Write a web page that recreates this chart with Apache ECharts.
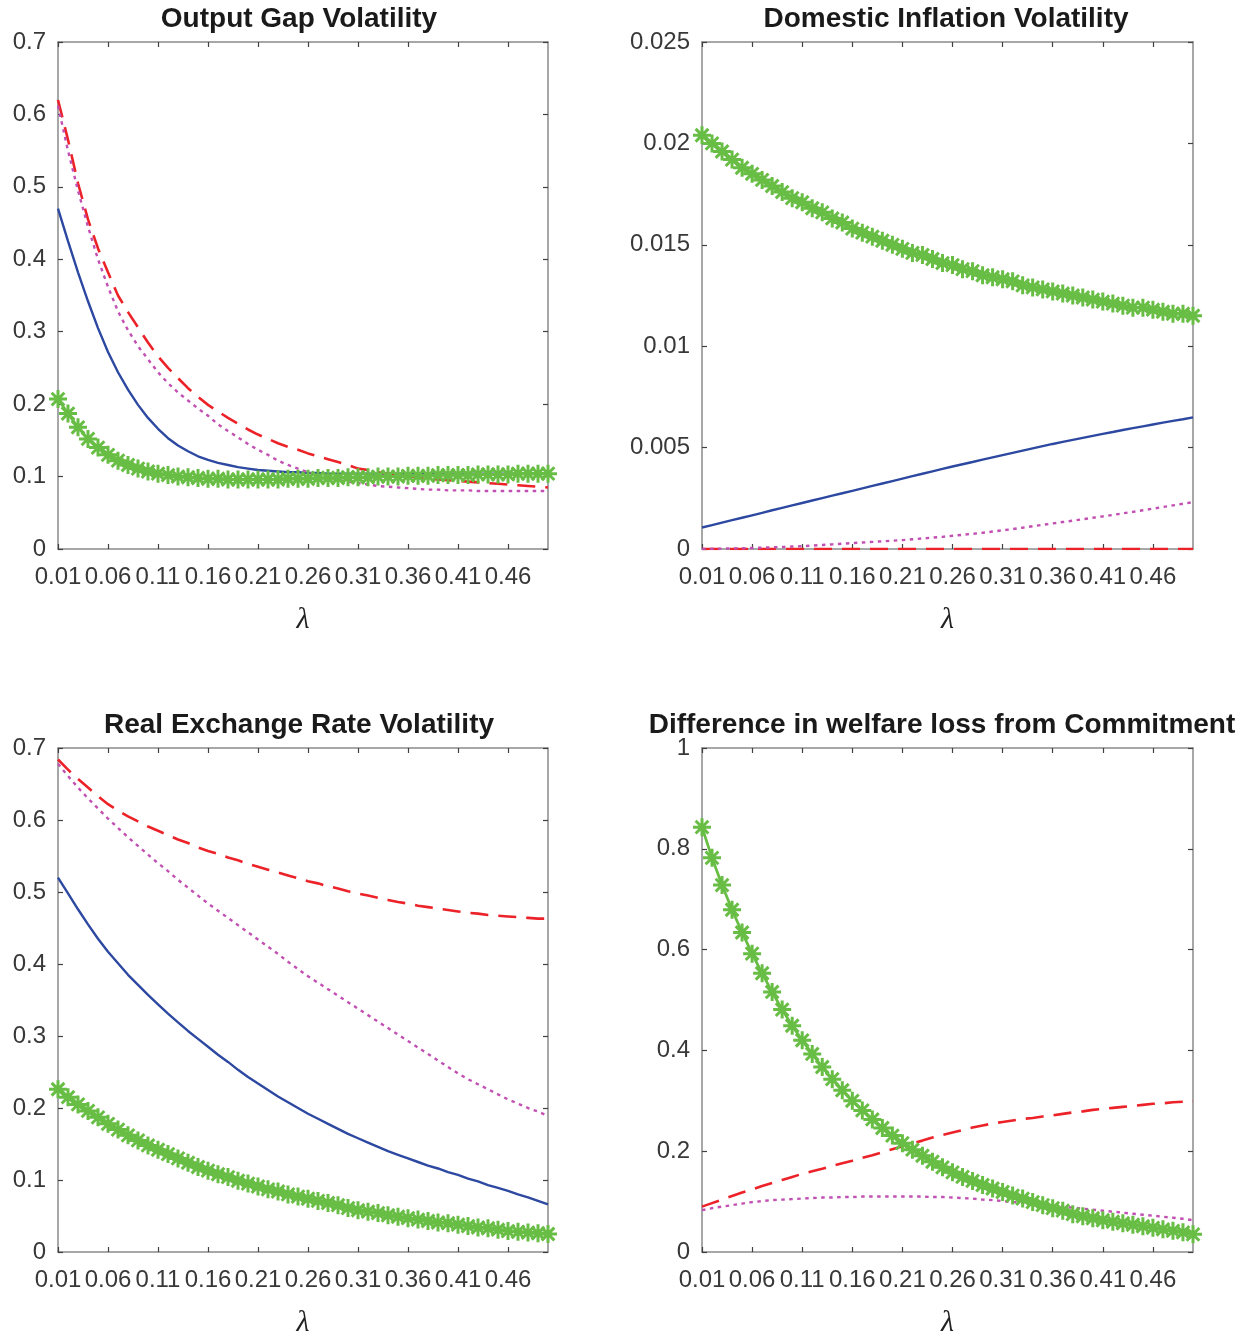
<!DOCTYPE html>
<html>
<head>
<meta charset="utf-8">
<script src="https://cdn.jsdelivr.net/npm/echarts@6/dist/echarts.min.js"></script>
<style>html,body{margin:0;padding:0;background:#fff}#c{width:1249px;height:1339px}</style>
</head>
<body>
<div id="c"></div>
<script>
// lambda grid (x axis categories)
var lambdas = ['0.01','0.02','0.03','0.04','0.05','0.06','0.07','0.08','0.09','0.10',
  '0.11','0.12','0.13','0.14','0.15','0.16','0.17','0.18','0.19','0.20',
  '0.21','0.22','0.23','0.24','0.25','0.26','0.27','0.28','0.29','0.30',
  '0.31','0.32','0.33','0.34','0.35','0.36','0.37','0.38','0.39','0.40',
  '0.41','0.42','0.43','0.44','0.45','0.46','0.47','0.48','0.49','0.50'];

// Panel titles
var titles = ['Output Gap Volatility', 'Domestic Inflation Volatility',
  'Real Exchange Rate Volatility', 'Difference in welfare loss from Commitment'];

// Output gap volatility
var ogBlue = [0.470,0.425,0.382,0.342,0.305,0.272,0.244,0.220,0.199,0.181,
  0.166,0.153,0.143,0.135,0.128,0.123,0.119,0.116,0.113,0.111,
  0.109,0.108,0.107,0.106,0.106,0.105,0.105,0.104,0.104,0.104,
  0.104,0.104,0.104,0.104,0.104,0.104,0.104,0.104,0.104,0.104,
  0.104,0.104,0.104,0.104,0.104,0.104,0.104,0.104,0.104,0.104];
var ogRed = [0.620,0.565,0.505,0.455,0.415,0.382,0.350,0.327,0.306,0.285,
  0.266,0.250,0.236,0.222,0.210,0.199,0.190,0.181,0.173,0.165,
  0.158,0.152,0.146,0.141,0.137,0.132,0.128,0.124,0.120,0.116,
  0.111,0.109,0.106,0.104,0.102,0.100,0.099,0.097,0.096,0.095,
  0.094,0.093,0.092,0.091,0.090,0.089,0.088,0.087,0.086,0.085];
var ogMagenta = [0.612,0.550,0.495,0.445,0.400,0.362,0.328,0.302,0.280,0.262,
  0.244,0.229,0.216,0.205,0.194,0.184,0.172,0.163,0.154,0.145,
  0.137,0.130,0.122,0.116,0.111,0.106,0.101,0.098,0.095,0.093,
  0.091,0.089,0.087,0.086,0.085,0.084,0.083,0.082,0.082,0.081,
  0.081,0.081,0.080,0.080,0.080,0.080,0.080,0.080,0.080,0.080];
var ogGreen = [0.207,0.187,0.168,0.152,0.140,0.130,0.122,0.116,0.111,0.107,
  0.104,0.102,0.100,0.099,0.098,0.097,0.097,0.096,0.096,0.096,
  0.096,0.096,0.096,0.097,0.097,0.097,0.098,0.098,0.098,0.099,
  0.099,0.099,0.100,0.100,0.100,0.101,0.101,0.101,0.102,0.102,
  0.102,0.102,0.103,0.103,0.103,0.103,0.104,0.104,0.104,0.104];

// Domestic inflation volatility
var diBlue = [0.00106,0.00118,0.00130,0.00142,0.00154,0.00166,0.00178,0.00191,0.00203,0.00215,
  0.00227,0.00239,0.00251,0.00263,0.00275,0.00287,0.00299,0.00311,0.00323,0.00335,
  0.00347,0.00359,0.00371,0.00383,0.00395,0.00407,0.00418,0.00429,0.00441,0.00452,
  0.00463,0.00474,0.00485,0.00496,0.00507,0.00518,0.00528,0.00538,0.00548,0.00558,
  0.00568,0.00577,0.00587,0.00596,0.00605,0.00614,0.00623,0.00632,0.00640,0.00649];
var diRed = [0,0,0,0,0,0,0,0,0,0, 0,0,0,0,0,0,0,0,0,0, 0,0,0,0,0,0,0,0,0,0,
  0,0,0,0,0,0,0,0,0,0, 0,0,0,0,0,0,0,0,0,0];
var diMagenta = [0.00000,0.00001,0.00002,0.00003,0.00004,0.00005,0.00007,0.00008,0.00010,0.00012,
  0.00014,0.00017,0.00020,0.00023,0.00026,0.00029,0.00032,0.00035,0.00038,0.00041,
  0.00044,0.00048,0.00052,0.00056,0.00060,0.00065,0.00070,0.00075,0.00080,0.00086,
  0.00092,0.00098,0.00105,0.00112,0.00119,0.00126,0.00133,0.00140,0.00147,0.00154,
  0.00161,0.00168,0.00176,0.00183,0.00191,0.00199,0.00207,0.00215,0.00223,0.00231];
var diGreen = [0.0204,0.0200,0.0196,0.0192,0.0188,0.0185,0.0182,0.0179,0.0176,0.0173,
  0.0171,0.0168,0.0166,0.0163,0.0161,0.0158,0.0156,0.0154,0.0152,0.0150,
  0.0148,0.0146,0.0145,0.0143,0.0141,0.0140,0.0138,0.0137,0.0135,0.0134,
  0.0133,0.0132,0.0130,0.0129,0.0128,0.0127,0.0126,0.0125,0.0124,0.0123,
  0.0122,0.0121,0.0120,0.0119,0.0119,0.0118,0.0117,0.0116,0.0116,0.0115];

// Real exchange rate volatility
var rerBlue = [0.520,0.498,0.476,0.455,0.435,0.417,0.401,0.385,0.371,0.357,
  0.344,0.331,0.319,0.307,0.296,0.285,0.274,0.264,0.253,0.243,
  0.234,0.225,0.216,0.208,0.200,0.192,0.185,0.178,0.171,0.164,
  0.158,0.152,0.146,0.140,0.135,0.130,0.125,0.120,0.116,0.111,
  0.107,0.102,0.098,0.093,0.089,0.085,0.080,0.076,0.071,0.066];
var rerRed = [0.684,0.670,0.657,0.645,0.633,0.622,0.613,0.605,0.598,0.591,
  0.585,0.579,0.573,0.568,0.562,0.557,0.553,0.548,0.544,0.539,
  0.535,0.531,0.527,0.523,0.519,0.515,0.512,0.508,0.505,0.501,
  0.498,0.495,0.492,0.489,0.486,0.484,0.481,0.479,0.477,0.475,
  0.473,0.471,0.470,0.468,0.467,0.466,0.465,0.464,0.463,0.463];
var rerMagenta = [0.678,0.661,0.645,0.630,0.616,0.602,0.589,0.576,0.564,0.552,
  0.540,0.529,0.517,0.506,0.495,0.484,0.474,0.464,0.454,0.444,
  0.434,0.424,0.414,0.403,0.393,0.383,0.374,0.365,0.356,0.347,
  0.338,0.329,0.320,0.311,0.302,0.293,0.284,0.275,0.266,0.257,
  0.248,0.240,0.233,0.226,0.219,0.212,0.206,0.200,0.195,0.189];
var rerGreen = [0.226,0.215,0.205,0.196,0.187,0.178,0.170,0.162,0.155,0.148,
  0.142,0.136,0.130,0.124,0.118,0.113,0.108,0.104,0.099,0.095,
  0.091,0.087,0.084,0.080,0.077,0.074,0.071,0.068,0.065,0.061,
  0.058,0.056,0.054,0.051,0.049,0.047,0.045,0.043,0.041,0.040,
  0.038,0.036,0.034,0.033,0.031,0.029,0.028,0.027,0.026,0.025];

// Difference in welfare loss from commitment
var wlRed = [0.090,0.097,0.104,0.111,0.118,0.124,0.131,0.137,0.143,0.149,
  0.155,0.160,0.165,0.171,0.176,0.181,0.187,0.192,0.198,0.204,
  0.210,0.216,0.221,0.227,0.232,0.237,0.242,0.247,0.251,0.255,
  0.258,0.261,0.264,0.266,0.269,0.271,0.274,0.277,0.279,0.282,
  0.284,0.286,0.288,0.290,0.292,0.294,0.295,0.297,0.298,0.299];
var wlMagenta = [0.083,0.087,0.090,0.093,0.096,0.099,0.101,0.103,0.104,0.105,
  0.106,0.107,0.108,0.108,0.109,0.109,0.110,0.110,0.110,0.110,
  0.110,0.110,0.110,0.109,0.109,0.108,0.107,0.106,0.104,0.103,
  0.101,0.099,0.098,0.096,0.094,0.092,0.090,0.088,0.086,0.084,
  0.082,0.080,0.078,0.076,0.074,0.072,0.070,0.068,0.066,0.063];
var wlGreen = [0.843,0.782,0.728,0.679,0.634,0.592,0.553,0.516,0.481,0.449,
  0.420,0.393,0.367,0.343,0.321,0.300,0.281,0.263,0.246,0.231,
  0.216,0.203,0.191,0.179,0.168,0.158,0.149,0.141,0.133,0.126,
  0.119,0.112,0.106,0.099,0.093,0.087,0.082,0.075,0.071,0.067,
  0.063,0.060,0.057,0.054,0.051,0.048,0.045,0.042,0.039,0.035];

// y-axis ranges per panel
var yRanges = [
  {min: 0, max: 0.7, interval: 0.1},
  {min: 0, max: 0.025, interval: 0.005},
  {min: 0, max: 0.7, interval: 0.1},
  {min: 0, max: 1, interval: 0.2}
];

var panelData = [
  {blue: ogBlue, red: ogRed, magenta: ogMagenta, green: ogGreen},
  {blue: diBlue, red: diRed, magenta: diMagenta, green: diGreen},
  {blue: rerBlue, red: rerRed, magenta: rerMagenta, green: rerGreen},
  {blue: null, red: wlRed, magenta: wlMagenta, green: wlGreen}
];

// ---------- styling / layout ----------
var FONT = '"Liberation Sans", Arial, Helvetica, sans-serif';
var C_BLUE = '#2c48a0', C_RED = '#ec2229', C_MAG = '#c24fb2', C_GREEN = '#68bd45';
var AX = '#8a8a8a', TICK = '#404040', LAB = '#383838';
var grids = [
  {left: 58, top: 42, width: 490, height: 507},
  {left: 702, top: 42, width: 491, height: 507},
  {left: 58, top: 748, width: 490, height: 508},
  {left: 702, top: 748, width: 491, height: 508}
];
var titleCenters = [[299, 5], [946, 5], [299, 711], [942, 711]];
var ASTER = 'path://M0,-10L0,10M-10,0L10,0M-7.07,-7.07L7.07,7.07M-7.07,7.07L7.07,-7.07';

var option = {
  animation: false,
  backgroundColor: '#ffffff',
  textStyle: {fontFamily: FONT},
  title: [], grid: [], xAxis: [], yAxis: [], series: []
};

for (var i = 0; i < 4; i++) {
  option.title.push({
    text: titles[i], left: titleCenters[i][0], top: titleCenters[i][1], textAlign: 'center', padding: 0,
    textStyle: {fontFamily: FONT, fontWeight: 'bold', fontSize: 28, color: '#1a1a1a'}
  });
  var g = grids[i];
  option.grid.push({left: g.left, top: g.top, width: g.width, height: g.height, containLabel: false});
  // bottom x axis
  option.xAxis.push({
    type: 'category', gridIndex: i, data: lambdas, boundaryGap: false, position: 'bottom',
    name: 'λ', nameLocation: 'middle', nameGap: 56,
    nameTextStyle: {fontFamily: '"Liberation Serif", "DejaVu Serif", serif', fontStyle: 'italic', fontSize: 30, color: '#222'},
    axisLine: {show: true, onZero: false, lineStyle: {color: AX, width: 1.5}},
    axisTick: {show: true, inside: true, length: 5, interval: 4, alignWithLabel: true, lineStyle: {color: TICK, width: 1.2}},
    axisLabel: {show: true, interval: 4, margin: 16, fontSize: 24, color: LAB, fontFamily: FONT},
    splitLine: {show: false}
  });
  // top x axis (box)
  option.xAxis.push({
    type: 'category', gridIndex: i, data: lambdas, boundaryGap: false, position: 'top',
    axisLine: {show: true, onZero: false, lineStyle: {color: AX, width: 1.5}},
    axisTick: {show: true, inside: true, length: 5, interval: 4, lineStyle: {color: TICK, width: 1.2}},
    axisLabel: {show: false}, splitLine: {show: false}
  });
  var yr = yRanges[i];
  option.yAxis.push({
    type: 'value', gridIndex: i, min: yr.min, max: yr.max, interval: yr.interval, position: 'left',
    axisLine: {show: true, onZero: false, lineStyle: {color: AX, width: 1.5}},
    axisTick: {show: true, inside: true, length: 5, lineStyle: {color: TICK, width: 1.2}},
    axisLabel: {show: true, margin: 12, fontSize: 24, color: LAB, fontFamily: FONT},
    splitLine: {show: false}
  });
  option.yAxis.push({
    type: 'value', gridIndex: i, min: yr.min, max: yr.max, interval: yr.interval, position: 'right',
    axisLine: {show: true, onZero: false, lineStyle: {color: AX, width: 1.5}},
    axisTick: {show: true, inside: true, length: 5, lineStyle: {color: TICK, width: 1.2}},
    axisLabel: {show: false}, splitLine: {show: false}
  });
  var xi = i * 2, yi = i * 2;
  var d = panelData[i];
  if (d.blue) {
    option.series.push({type: 'line', xAxisIndex: xi, yAxisIndex: yi, data: d.blue, showSymbol: false,
      lineStyle: {color: C_BLUE, width: 2.4}, itemStyle: {color: C_BLUE}, z: 2});
  }
  option.series.push({type: 'line', xAxisIndex: xi, yAxisIndex: yi, data: d.red, showSymbol: false,
    lineStyle: {color: C_RED, width: 2.6, type: [18, 10]}, itemStyle: {color: C_RED}, z: 3});
  option.series.push({type: 'line', xAxisIndex: xi, yAxisIndex: yi, data: d.magenta, showSymbol: false,
    lineStyle: {color: C_MAG, width: 2.4, type: [3.5, 4.5]}, itemStyle: {color: C_MAG}, z: 4});
  option.series.push({type: 'line', xAxisIndex: xi, yAxisIndex: yi, data: d.green,
    showSymbol: true, showAllSymbol: true, symbol: ASTER, symbolSize: 18, clip: false,
    lineStyle: {color: C_GREEN, width: 2.8},
    itemStyle: {color: C_GREEN, borderColor: C_GREEN, borderWidth: 3}, z: 5});
}

var chart = echarts.init(document.getElementById('c'), null, {renderer: 'canvas'});
chart.setOption(option);
</script>
</body>
</html>
